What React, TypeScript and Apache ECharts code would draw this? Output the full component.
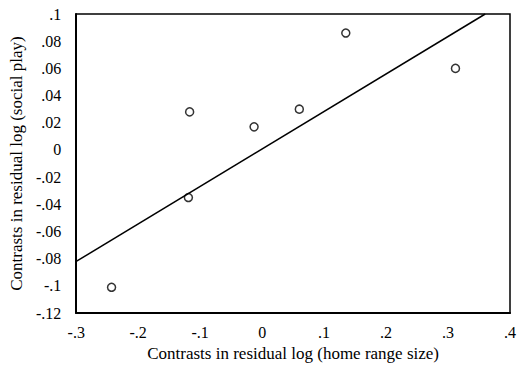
import React, { useEffect, useRef } from "react";
import * as echarts from "echarts";

const pointX = [-0.243, -0.119, -0.117, -0.013, 0.06, 0.135, 0.312];
const pointY = [-0.101, -0.035, 0.028, 0.017, 0.03, 0.086, 0.06];
const lineX = [-0.3, 0.36];
const lineY = [-0.082, 0.1];
const xTitle = "Contrasts in residual log (home range size)";
const yTitle = "Contrasts in residual log (social play)";

const fmt = (v: number) => {
  const r = Math.round(v * 100) / 100;
  if (r === 0) return "0";
  return String(r).replace(/^(-?)0\./, "$1.");
};

export default function App() {
  const ref = useRef<HTMLDivElement>(null);
  useEffect(() => {
    if (!ref.current) return;
    const chart = echarts.init(ref.current, null, { renderer: "svg" });
    const font = "'Liberation Serif', 'Times New Roman', serif";
    chart.setOption({
      animation: false,
      backgroundColor: "#fff",
      textStyle: { fontFamily: font, color: "#000" },
      grid: {
        left: 72,
        right: 11,
        top: 14,
        bottom: 52,
        show: true,
        borderColor: "#000",
        borderWidth: 1.5,
        backgroundColor: "transparent",
      },
      xAxis: {
        type: "value",
        min: -0.3,
        max: 0.4,
        interval: 0.1,
        axisLine: { show: true, onZero: false, lineStyle: { color: "#000", width: 2 } },
        axisTick: { show: false },
        splitLine: { show: false },
        axisLabel: { formatter: fmt, color: "#000", fontSize: 16, fontFamily: font, margin: 11 },
        name: xTitle,
        nameLocation: "middle",
        nameGap: 30,
        nameTextStyle: { color: "#000", fontSize: 17, fontFamily: font },
      },
      yAxis: {
        type: "value",
        min: -0.12,
        max: 0.1,
        interval: 0.02,
        axisLine: { show: true, onZero: false, lineStyle: { color: "#000", width: 2 } },
        axisTick: { show: false },
        splitLine: { show: false },
        axisLabel: { formatter: fmt, color: "#000", fontSize: 16, fontFamily: font, margin: 15 },
        name: yTitle,
        nameLocation: "middle",
        nameGap: 41,
        nameTextStyle: { color: "#000", fontSize: 17, fontFamily: font },
      },
      series: [
        {
          type: "line",
          data: lineX.map((x, i) => [x, lineY[i]]),
          symbol: "none",
          lineStyle: { color: "#000", width: 1.5 },
          silent: true,
        },
        {
          type: "scatter",
          data: pointX.map((x, i) => [x, pointY[i]]),
          symbol: "circle",
          symbolSize: 8,
          itemStyle: { color: "#fff", borderColor: "#000", borderWidth: 1.5 },
        },
      ],
    });
    return () => chart.dispose();
  }, []);
  return (
    <div
      ref={ref}
      style={{ position: "fixed", left: 0, top: 0, width: 521, height: 367 }}
    />
  );
}
